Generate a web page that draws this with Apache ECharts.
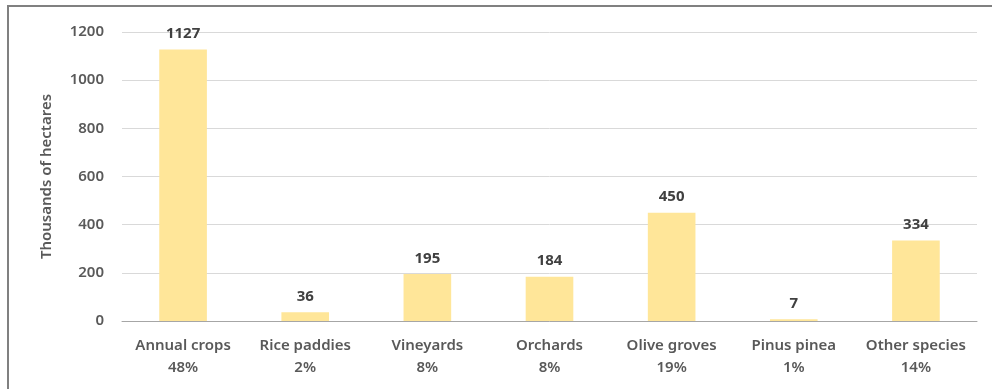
<!DOCTYPE html>
<html><head><meta charset="utf-8">
<script src="https://cdn.jsdelivr.net/npm/echarts@6/dist/echarts.min.js"></script>
<style>html,body{margin:0;padding:0;background:#fff}#c{width:992px;height:389px}</style>
</head><body><div id="c"></div>
<script>
const categories = ['Annual crops','Rice paddies','Vineyards','Orchards','Olive groves','Pinus pinea','Other species'];
const shares = ['48%','2%','8%','8%','19%','1%','14%'];
const values = [1127, 36, 195, 184, 450, 7, 334];
const yTicks = [0, 200, 400, 600, 800, 1000, 1200];

const chart = echarts.init(document.getElementById('c'), null, {renderer:'canvas'});
const FONT = '"Noto Sans", sans-serif';
chart.setOption({
  animation:false,
  graphic:[{type:'rect', shape:{x:8, y:6, width:1100, height:500}, style:{fill:'none', stroke:'#808080', lineWidth:2}, silent:true}],
  grid:{left:122, right:15, top:32, bottom:68},
  xAxis:{type:'category', data:categories.map((c,i)=>c+'\n'+shares[i]),
    axisLine:{lineStyle:{color:'#a6a6a6', width:1}}, axisTick:{show:false},
    axisLabel:{color:'#595959', fontFamily:FONT, fontSize:15, fontWeight:600, lineHeight:22, margin:14, interval:0}},
  yAxis:{type:'value', min:yTicks[0], max:yTicks[yTicks.length-1], interval:200,
    name:'Thousands of hectares', nameLocation:'middle', nameGap:68, nameRotate:90,
    nameTextStyle:{color:'#595959', fontFamily:FONT, fontSize:15, fontWeight:600},
    axisLine:{show:false}, axisTick:{show:false},
    axisLabel:{color:'#595959', fontFamily:FONT, fontSize:15, fontWeight:600, margin:18, formatter:v=>String(v)},
    splitLine:{lineStyle:{color:'#d9d9d9', width:1}}},
  series:[{type:'bar', data:values, barWidth:'39%', itemStyle:{color:'#FFE699'},
    label:{show:true, position:'top', distance:8, color:'#404040', fontFamily:FONT, fontSize:15, fontWeight:'bold'}}]
});
</script></body></html>
